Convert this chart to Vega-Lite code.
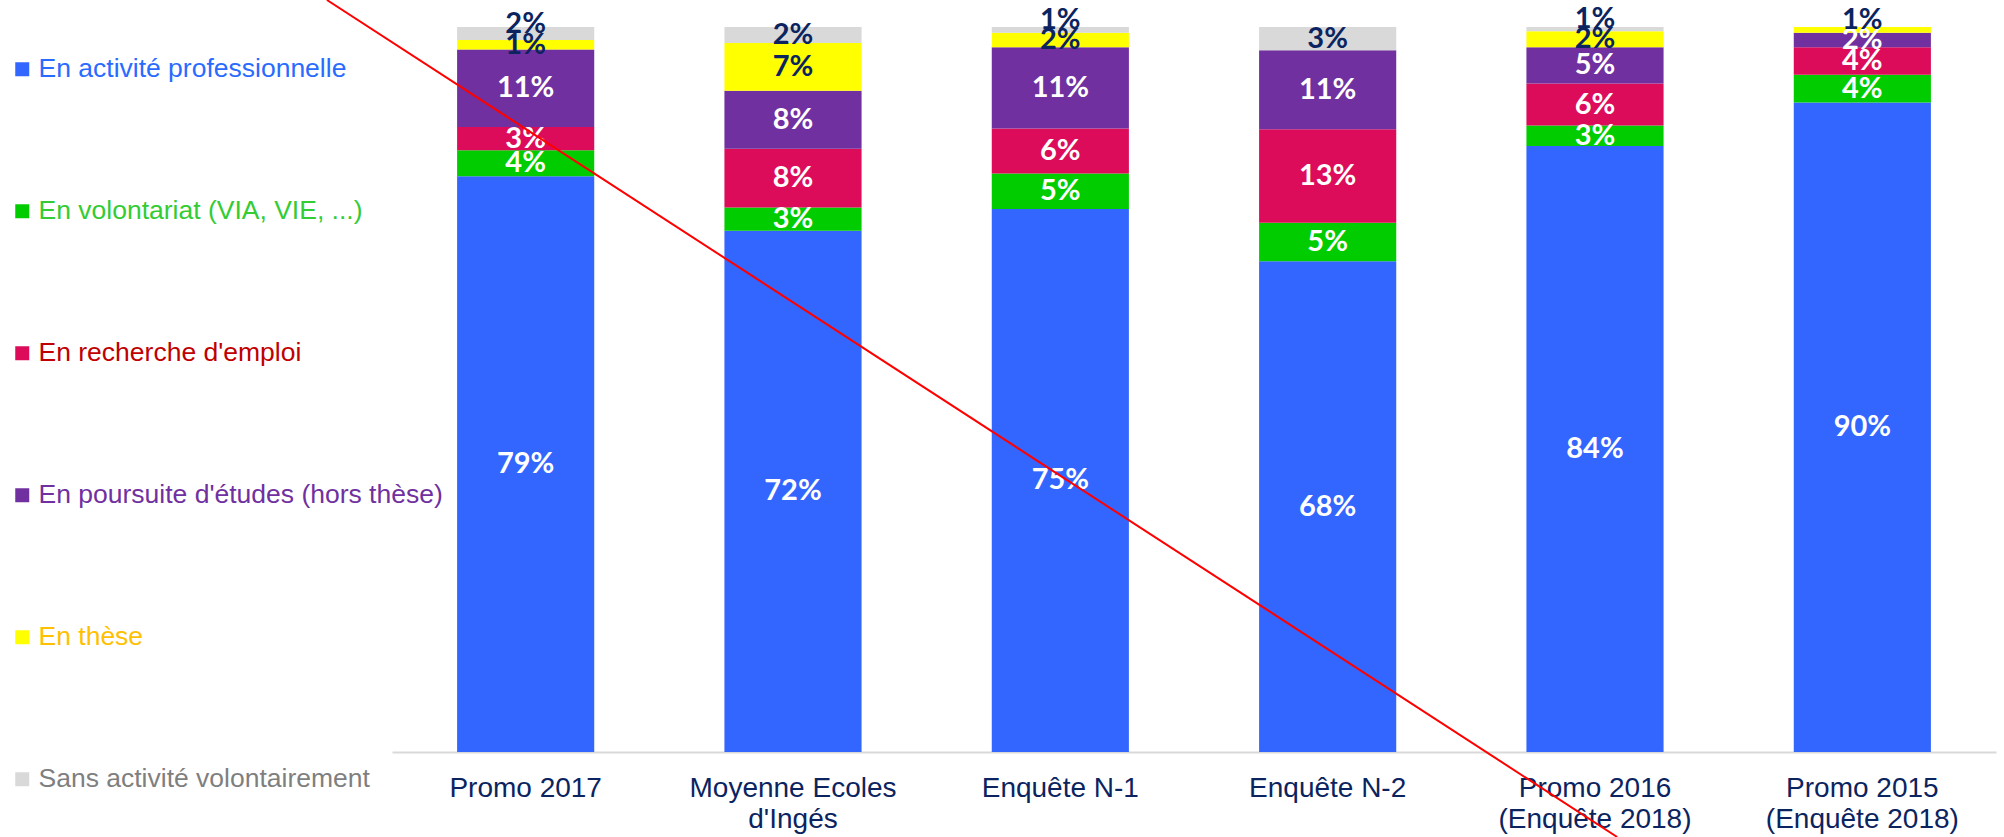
{
  "$schema": "https://vega.github.io/schema/vega-lite/v6.json",
  "width": 1604,
  "height": 725,
  "autosize": "none",
  "padding": {"left": 392, "top": 27, "right": 8, "bottom": 85},
  "background": "white",
  "config": {"view": {"stroke": null}, "font": "Liberation Sans"},
  "data": {"values": [
      {"groupe": "Promo 2017", "statut": "En activité professionnelle", "v": 0.794},
      {"groupe": "Promo 2017", "statut": "En volontariat (VIA, VIE, ...)", "v": 0.036},
      {"groupe": "Promo 2017", "statut": "En recherche d'emploi", "v": 0.032},
      {"groupe": "Promo 2017", "statut": "En poursuite d'études (hors thèse)", "v": 0.107},
      {"groupe": "Promo 2017", "statut": "En thèse", "v": 0.013},
      {"groupe": "Promo 2017", "statut": "Sans activité volontairement", "v": 0.018},
      {"groupe": "Moyenne Ecoles d'Ingés", "statut": "En activité professionnelle", "v": 0.719},
      {"groupe": "Moyenne Ecoles d'Ingés", "statut": "En volontariat (VIA, VIE, ...)", "v": 0.032},
      {"groupe": "Moyenne Ecoles d'Ingés", "statut": "En recherche d'emploi", "v": 0.081},
      {"groupe": "Moyenne Ecoles d'Ingés", "statut": "En poursuite d'études (hors thèse)", "v": 0.080},
      {"groupe": "Moyenne Ecoles d'Ingés", "statut": "En thèse", "v": 0.066},
      {"groupe": "Moyenne Ecoles d'Ingés", "statut": "Sans activité volontairement", "v": 0.022},
      {"groupe": "Enquête N-1", "statut": "En activité professionnelle", "v": 0.749},
      {"groupe": "Enquête N-1", "statut": "En volontariat (VIA, VIE, ...)", "v": 0.049},
      {"groupe": "Enquête N-1", "statut": "En recherche d'emploi", "v": 0.062},
      {"groupe": "Enquête N-1", "statut": "En poursuite d'études (hors thèse)", "v": 0.112},
      {"groupe": "Enquête N-1", "statut": "En thèse", "v": 0.020},
      {"groupe": "Enquête N-1", "statut": "Sans activité volontairement", "v": 0.008},
      {"groupe": "Enquête N-2", "statut": "En activité professionnelle", "v": 0.677},
      {"groupe": "Enquête N-2", "statut": "En volontariat (VIA, VIE, ...)", "v": 0.053},
      {"groupe": "Enquête N-2", "statut": "En recherche d'emploi", "v": 0.129},
      {"groupe": "Enquête N-2", "statut": "En poursuite d'études (hors thèse)", "v": 0.109},
      {"groupe": "Enquête N-2", "statut": "Sans activité volontairement", "v": 0.032},
      {"groupe": "Promo 2016 (Enquête 2018)", "statut": "En activité professionnelle", "v": 0.836},
      {"groupe": "Promo 2016 (Enquête 2018)", "statut": "En volontariat (VIA, VIE, ...)", "v": 0.028},
      {"groupe": "Promo 2016 (Enquête 2018)", "statut": "En recherche d'emploi", "v": 0.058},
      {"groupe": "Promo 2016 (Enquête 2018)", "statut": "En poursuite d'études (hors thèse)", "v": 0.050},
      {"groupe": "Promo 2016 (Enquête 2018)", "statut": "En thèse", "v": 0.022},
      {"groupe": "Promo 2016 (Enquête 2018)", "statut": "Sans activité volontairement", "v": 0.006},
      {"groupe": "Promo 2015 (Enquête 2018)", "statut": "En activité professionnelle", "v": 0.896},
      {"groupe": "Promo 2015 (Enquête 2018)", "statut": "En volontariat (VIA, VIE, ...)", "v": 0.038},
      {"groupe": "Promo 2015 (Enquête 2018)", "statut": "En recherche d'emploi", "v": 0.038},
      {"groupe": "Promo 2015 (Enquête 2018)", "statut": "En poursuite d'études (hors thèse)", "v": 0.020},
      {"groupe": "Promo 2015 (Enquête 2018)", "statut": "En thèse", "v": 0.008}
  ]},
  "transform": [
    {"calculate": "indexof(['En activité professionnelle', 'En volontariat (VIA, VIE, ...)', \"En recherche d'emploi\", \"En poursuite d'études (hors thèse)\", 'En thèse', 'Sans activité volontairement'], datum.statut)", "as": "rang"},
    {"stack": "v", "groupby": ["groupe"], "sort": [{"field": "rang", "order": "ascending"}], "as": ["v0", "v1"]},
    {"calculate": "(datum.v0 + datum.v1) / 2", "as": "vmid"}
  ],
  "layer": [
    {
      "mark": {"type": "bar"},
      "encoding": {
        "x": {
          "field": "groupe", "type": "nominal", "sort": null, "title": null,
          "scale": {"domain": ["Promo 2017", "Moyenne Ecoles d'Ingés", "Enquête N-1", "Enquête N-2", "Promo 2016 (Enquête 2018)", "Promo 2015 (Enquête 2018)"], "paddingInner": 0.487, "paddingOuter": 0.2435},
          "axis": {
            "labelAngle": 0, "ticks": false, "domainColor": "#D9D9D9", "domainWidth": 2,
            "labelFont": "Liberation Sans", "labelFontSize": 28, "labelColor": "#0B2460",
            "labelPadding": 22, "labelLineHeight": 31, "labelLimit": 0, "labelBaseline": "top",
            "labelExpr": "datum.label === \"Moyenne Ecoles d'Ingés\" ? ['Moyenne Ecoles', \"d'Ingés\"] : (indexof(datum.label, ' (') > 0 ? [substring(datum.label, 0, indexof(datum.label, ' (')), substring(datum.label, indexof(datum.label, ' (') + 1)] : datum.label)"
          }
        },
        "y": {
          "field": "v0", "type": "quantitative",
          "scale": {"domain": [0, 1], "nice": false}, "axis": null
        },
        "y2": {"field": "v1"},
        "color": {
          "field": "statut", "type": "nominal",
          "scale": {
            "domain": ["En activité professionnelle", "En volontariat (VIA, VIE, ...)", "En recherche d'emploi", "En poursuite d'études (hors thèse)", "En thèse", "Sans activité volontairement"],
            "range": ["#3366FF", "#00CC00", "#DC0C5A", "#7030A0", "#FFFF00", "#D9D9D9"]
          },
          "legend": {
            "title": null, "orient": "none", "legendX": -383, "legendY": 29,
            "direction": "vertical", "padding": 0,
            "symbolType": "square", "symbolSize": 196, "symbolStrokeWidth": 0, "symbolOpacity": 1,
            "labelFont": "Liberation Sans", "labelFontSize": 26.5, "labelOffset": 3, "labelLimit": 0,
            "rowPadding": 115,
            "labelColor": {"expr": "datum.value === 'En activité professionnelle' ? '#2A6BFF' : datum.value === 'En volontariat (VIA, VIE, ...)' ? '#33CC33' : datum.value === \"En recherche d'emploi\" ? '#C00000' : datum.value === \"En poursuite d'études (hors thèse)\" ? '#7030A0' : datum.value === 'En thèse' ? '#FFC000' : '#7F7F7F'"}
          }
        }
      }
    },
    {
      "transform": [{"filter": "!(datum.v1 > 0.999 && datum.v < 0.02)"}],
      "mark": {
        "type": "text", "font": "Lato", "fontWeight": "bold", "fontSize": 29,
        "align": "center", "baseline": "middle"
      },
      "encoding": {
        "x": {"field": "groupe", "type": "nominal", "sort": null, "scale": {"domain": ["Promo 2017", "Moyenne Ecoles d'Ingés", "Enquête N-1", "Enquête N-2", "Promo 2016 (Enquête 2018)", "Promo 2015 (Enquête 2018)"], "paddingInner": 0.487, "paddingOuter": 0.2435}, "axis": null},
        "y": {"field": "vmid", "type": "quantitative"},
        "text": {"field": "v", "type": "quantitative", "format": ".0%"},
        "color": {
          "condition": {"test": "datum.rang >= 4", "value": "#0B2460"},
          "value": "#FFFFFF"
        }
      }
    },
    {
      "transform": [{"filter": "datum.v1 > 0.999 && datum.v < 0.02"}],
      "mark": {
        "type": "text", "font": "Lato", "fontWeight": "bold", "fontSize": 29,
        "align": "center", "baseline": "middle", "dy": -10
      },
      "encoding": {
        "x": {"field": "groupe", "type": "nominal", "sort": null, "scale": {"domain": ["Promo 2017", "Moyenne Ecoles d'Ingés", "Enquête N-1", "Enquête N-2", "Promo 2016 (Enquête 2018)", "Promo 2015 (Enquête 2018)"], "paddingInner": 0.487, "paddingOuter": 0.2435}, "axis": null},
        "y": {"field": "vmid", "type": "quantitative"},
        "text": {"field": "v", "type": "quantitative", "format": ".0%"},
        "color": {"value": "#0B2460"}
      }
    },
    {
      "data": {"values": [{"x1": 0.2566, "y1": 1.0372, "x2": 5.083, "y2": -0.1172}]},
      "mark": {"type": "rule", "color": "#FF0000", "strokeWidth": 2},
      "encoding": {
        "x": {"field": "x1", "type": "quantitative", "scale": {"domain": [0.5, 6.5], "nice": false, "zero": false}, "axis": null},
        "x2": {"field": "x2"},
        "y": {"field": "y1", "type": "quantitative", "scale": {"domain": [0, 1], "nice": false}},
        "y2": {"field": "y2"}
      }
    }
  ],
  "resolve": {"scale": {"x": "independent"}}
}
